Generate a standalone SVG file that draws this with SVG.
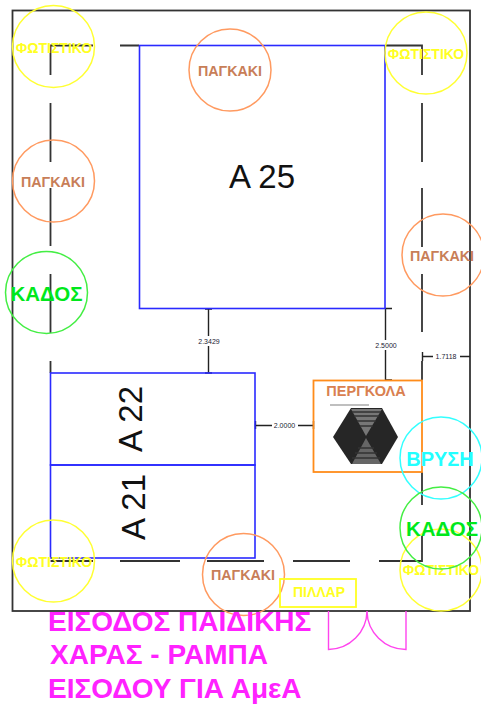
<svg xmlns="http://www.w3.org/2000/svg" width="481" height="706" viewBox="0 0 481 706">
<defs><style>
text{font-family:"Liberation Sans",Arial,sans-serif}
.c{fill:none;stroke-width:1.5}
.y{stroke:#ffff33}.o{stroke:#ff9a60}.g{stroke:#44ee44}.cy{stroke:#33ffff}
.wall{fill:none;stroke:#333;stroke-width:1.8}
.blue{fill:none;stroke:#2a2aff;stroke-width:1.6}
.dim{fill:none;stroke:#222;stroke-width:1.4}
.dt{font-size:7px;fill:#223;text-anchor:middle}
.ph{font-size:14px;font-weight:bold;fill:#ffff22;text-anchor:middle}
.pa{font-size:14.3px;font-weight:bold;fill:#c87e58;text-anchor:middle}
.ka{font-size:20.500px;font-weight:bold;fill:#00e81c;text-anchor:middle}
.ar{font-size:33px;fill:#111}
.en{font-size:28px;font-weight:bold;fill:#ff22ff}
</style></defs>
<rect width="481" height="706" fill="#fff"/>
<g id="connectors">
<rect id="site" class="wall" x="12.500" y="10.500" width="457.500" height="600.500"/>
<path id="fence" class="wall" d="M93 45.500H50.500V75M50.500 103V162M50.500 188V246M50.500 274V333M50.500 361V373M120 45.500H139M385 45.500H422V75M422 103V162M422 188V247M422 274V332M422 361V380M422 472V505M422 536V561H379M350 561H293M264 561H207M180 561H120M93 561H50.500"/>
<path class="dim" d="M208.500 309V373M205 309H212M205 373H212"/>
<path class="dim" d="M385.500 309V380M385 308.500H392M385 380H392"/>
<path class="dim" d="M255 425.500H313M255.500 421V429M313.500 421V429"/>
<path class="dim" d="M422 356.500H470M422.500 352V361"/>
</g>
<g id="a25"><rect class="blue" x="139.500" y="45.500" width="245.500" height="263"/><text class="ar" x="229" y="188">Α 25</text></g>
<g id="a22"><rect class="blue" x="50.500" y="373" width="204.500" height="92"/><text class="ar" transform="translate(142 452) rotate(-90)">Α 22</text></g>
<g id="a21"><rect class="blue" x="50.500" y="465" width="204.500" height="93"/><text class="ar" transform="translate(145 540) rotate(-90)">Α 21</text></g>
<g id="dim-labels">
<rect x="196" y="336" width="26" height="10" fill="#fff"/><text class="dt" x="209" y="343.500">2.3429</text>
<rect x="374" y="340" width="25" height="10" fill="#fff"/><text class="dt" x="386" y="347.500">2.5000</text>
<rect x="272" y="420" width="26" height="10" fill="#fff"/><text class="dt" x="284.500" y="428">2.0000</text>
<rect x="433" y="352" width="27" height="10" fill="#fff"/><text class="dt" x="446" y="359">1.7118</text>
</g>
<g id="pergola">
<rect x="313.500" y="380.500" width="108.500" height="91.500" fill="none" stroke="#ff8c1a" stroke-width="1.800"/>
<text x="366" y="396" text-anchor="middle" font-size="14.500" font-weight="bold" fill="#d98050">ΠΕΡΓΚΟΛΑ</text>
<path d="M330 405H369" stroke="#aaa" stroke-width="1.500"/>
<path d="M333 437L351 408H382L398 437L382 464H351Z" fill="#262626"/>
<path d="M351 409H382L366 436Z" fill="#777"/>
<path d="M352 464H381L366 438Z" fill="#666"/>
<path d="M352 412H381M354 416H379M357 421H376M360 426H373M358 448H374M355 453H377M352 458H380" stroke="#333" stroke-width="1.500"/>
</g>
<g id="photo-tl"><circle class="c y" cx="53.500" cy="46.500" r="41"/><text class="ph" x="54" y="52.500">ΦΩΤΙΣΤΙΚΟ</text></g>
<g id="photo-tr"><circle class="c y" cx="426" cy="53" r="41"/><text class="ph" x="426" y="58.500">ΦΩΤΙΣΤΙΚΟ</text></g>
<g id="bench-top"><circle class="c o" cx="230" cy="70" r="41"/><text class="pa" x="230" y="75.500">ΠΑΓΚΑΚΙ</text></g>
<g id="bench-left"><circle class="c o" cx="53.500" cy="181" r="41"/><text class="pa" x="53" y="186.500">ΠΑΓΚΑΚΙ</text></g>
<g id="bench-right"><circle class="c o" cx="443" cy="255" r="41"/><text class="pa" x="442" y="260.500">ΠΑΓΚΑΚΙ</text></g>
<g id="bin-left"><circle class="c g" cx="46.500" cy="292.500" r="41"/><text class="ka" x="46.500" y="300.500">ΚΑΔΟΣ</text></g>
<g id="tap"><circle class="c cy" cx="441" cy="458" r="41"/><text x="440" y="465.500" text-anchor="middle" font-size="20" font-weight="bold" fill="#22ffff">ΒΡΥΣΗ</text></g>
<g id="photo-br"><circle class="c y" cx="441" cy="570" r="41"/><text class="ph" x="441" y="574.500">ΦΩΤΙΣΤΙΚΟ</text></g>
<g id="bin-right"><circle class="c g" cx="441" cy="528" r="41"/><text class="ka" x="442" y="535.500">ΚΑΔΟΣ</text></g>
<g id="photo-bl"><circle class="c y" cx="53.500" cy="561" r="41"/><text class="ph" x="54" y="566.500">ΦΩΤΙΣΤΙΚΟ</text></g>
<g id="bench-bottom"><circle class="c o" cx="243.500" cy="574.500" r="41"/><text class="pa" x="243" y="580">ΠΑΓΚΑΚΙ</text></g>
<g id="pillar"><rect x="280" y="579" width="76" height="28" fill="none" stroke="#ffff22" stroke-width="1.800"/><text x="319" y="597" text-anchor="middle" font-size="14" font-weight="bold" fill="#ffff22">ΠΙΛΛΑΡ</text></g>
<g id="door" fill="none" stroke="#ff44ee" stroke-width="1.400"><path d="M328.500 611V649.500A39 39 0 0 0 367 611A39 39 0 0 0 406 649.500V611"/></g>
<g id="entrance">
<text class="en" x="48" y="631">ΕΙΣΟΔΟΣ ΠΑΙΔΙΚΗΣ</text>
<text class="en" x="50" y="664">ΧΑΡΑΣ - ΡΑΜΠΑ</text>
<text class="en" x="48" y="698">ΕΙΣΟΔΟΥ ΓΙΑ ΑμεΑ</text>
</g>
</svg>
